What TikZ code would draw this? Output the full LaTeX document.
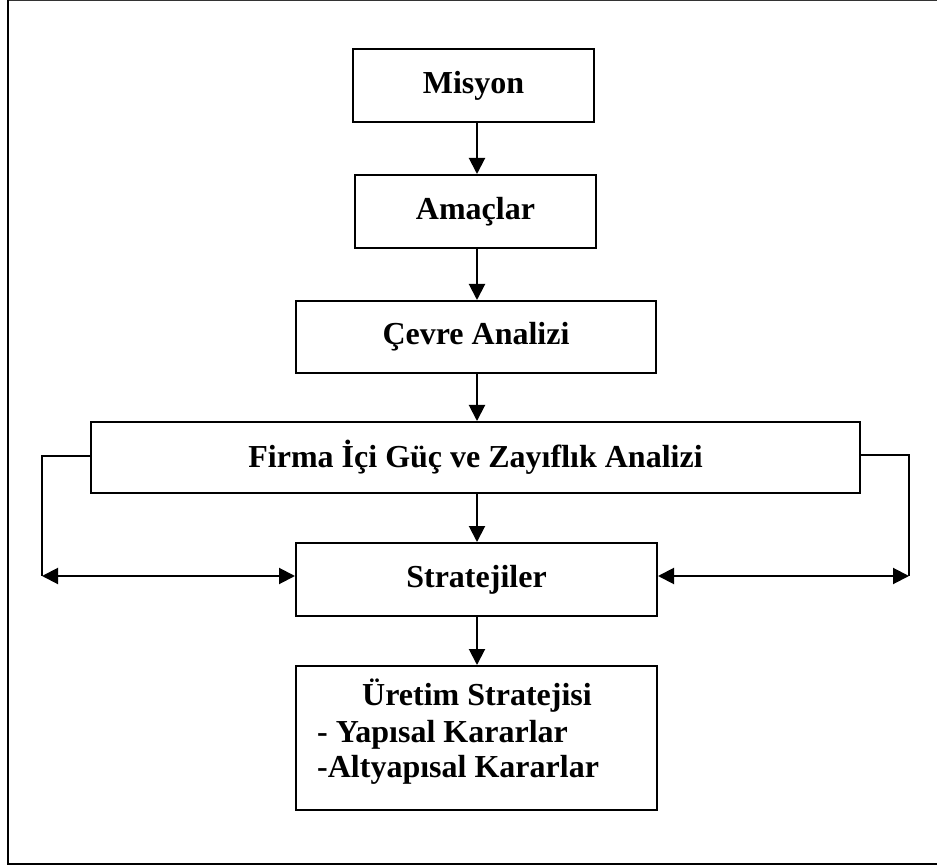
\documentclass[tikz,border=0pt]{standalone}
\usepackage{fontspec}
\setmainfont{Liberation Serif}
\usetikzlibrary{arrows.meta}

\begin{document}
\begin{tikzpicture}[
  x=1pt, y=-1pt,
  font=\fontsize{32}{36}\selectfont\bfseries,
  box/.style={draw, line width=2pt, inner sep=0pt, align=center},
  txt/.style={inner sep=0pt},
  flow/.style={line width=2pt, -{Triangle[length=16pt,width=16pt]}},
  link/.style={line width=2pt},
  both/.style={line width=2pt, {Triangle[length=16pt,width=16pt]}-{Triangle[length=16pt,width=16pt]}}
]
\useasboundingbox (0,0) rectangle (937,866);

% frame (open on the right)
\draw[line width=1pt, black!80] (8,0.5) -- (937,0.5);
\draw[line width=2.6pt] (8,0) -- (8,864) -- (937,864);

% boxes
\node[box, minimum width=241pt, minimum height=73pt] (misyon)  at (473.5,85.5)  {Misyon};
\node[box, minimum width=241pt, minimum height=73pt] (amaclar) at (475.5,211.5) {Amaçlar};
\node[box, minimum width=360pt, minimum height=72pt] (cevre)   at (476,337)     {Çevre Analizi};
\node[box, minimum width=769pt, minimum height=71pt] (firma)   at (475.5,457.5) {Firma İçi Güç ve Zayıflık Analizi};
\node[box, minimum width=361pt, minimum height=73pt] (strat)   at (476.5,579.5) {Stratejiler};
\node[box, minimum width=361pt, minimum height=144pt] (uretim) at (476.5,738)   {};

% production strategy text
\node[txt, anchor=base]      (u1) at (477,705) {Üretim Stratejisi};
\node[txt, anchor=base west] (u2) at (317,742) {- Yapısal Kararlar};
\node[txt, anchor=base west] (u3) at (317,777) {-Altyapısal Kararlar};

% vertical flow axis
\coordinate (ax) at (477,0);
\draw[flow] (misyon.south -| ax)  -- (amaclar.north -| ax);
\draw[flow] (amaclar.south -| ax) -- (cevre.north -| ax);
\draw[flow] (cevre.south -| ax)   -- (firma.north -| ax);
\draw[flow] (firma.south -| ax)   -- (strat.north -| ax);
\draw[flow] (strat.south -| ax)   -- (uretim.north -| ax);

% side feedback links
\coordinate (lt) at (42,456);
\coordinate (lb) at (42,576);
\coordinate (rt) at (909,455);
\coordinate (rb) at (909,576);
\draw[link] (firma.west |- lt) -- (lt) -- (lb);
\draw[both] (lb) -- (strat.west |- lb);
\draw[link] (firma.east |- rt) -- (rt) -- (rb);
\draw[both] (strat.east |- rb) -- (rb);
\end{tikzpicture}
\end{document}
